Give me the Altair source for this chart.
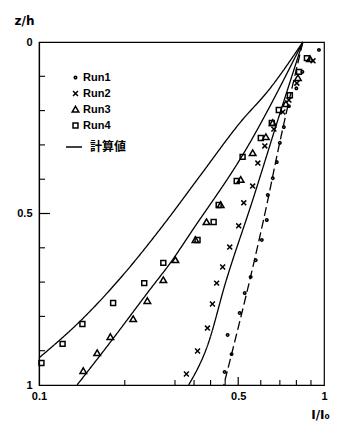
import altair as alt
import pandas as pd

# ---- data ----
runs = ["Run1", "Run2", "Run3", "Run4"]

run1_I = [0.96, 0.84, 0.80, 0.753, 0.723, 0.700, 0.683, 0.661, 0.635, 0.630, 0.605, 0.576, 0.553, 0.527, 0.506, 0.459, 0.474, 0.448]
run1_z = [0.023, 0.087, 0.135, 0.187, 0.248, 0.294, 0.350, 0.397, 0.446, 0.519, 0.577, 0.636, 0.685, 0.732, 0.790, 0.854, 0.910, 0.962]

run2_I = [0.915, 0.803, 0.753, 0.717, 0.667, 0.620, 0.586, 0.562, 0.523, 0.502, 0.467, 0.441, 0.420, 0.406, 0.390, 0.360, 0.329]
run2_z = [0.055, 0.120, 0.169, 0.204, 0.254, 0.303, 0.353, 0.420, 0.469, 0.536, 0.598, 0.656, 0.703, 0.764, 0.834, 0.901, 0.968]

run3_I = [0.893, 0.810, 0.735, 0.661, 0.625, 0.562, 0.510, 0.434, 0.387, 0.354, 0.301, 0.273, 0.240, 0.214, 0.178, 0.160, 0.143]
run3_z = [0.050, 0.105, 0.181, 0.236, 0.277, 0.324, 0.402, 0.475, 0.525, 0.577, 0.636, 0.694, 0.755, 0.808, 0.860, 0.907, 0.959]

run4_I = [0.871, 0.817, 0.759, 0.694, 0.656, 0.600, 0.518, 0.494, 0.427, 0.410, 0.360, 0.273, 0.234, 0.182, 0.142, 0.121, 0.102]
run4_z = [0.047, 0.087, 0.155, 0.198, 0.236, 0.280, 0.335, 0.405, 0.475, 0.525, 0.577, 0.644, 0.703, 0.761, 0.822, 0.880, 0.936]

# computed curves (計算値)
calcA_I = [0.843, 0.640, 0.510, 0.369, 0.278, 0.204, 0.143, 0.100]
calcA_z = [0.0, 0.140, 0.233, 0.388, 0.525, 0.665, 0.805, 0.921]
calcB_I = [0.843, 0.523, 0.346, 0.289, 0.246, 0.178, 0.136]
calcB_z = [0.0, 0.324, 0.548, 0.644, 0.720, 0.875, 1.0]
calcC_I = [0.843, 0.689, 0.562, 0.452, 0.391, 0.335]
calcC_z = [0.0, 0.227, 0.461, 0.700, 0.883, 1.0]
calcD_I = [0.843, 0.694, 0.635, 0.445]
calcD_z = [0.0, 0.306, 0.461, 1.0]

x_labels = [0.1, 0.5, 1]
y_labels = [0, 0.5, 1]
x_minor_ticks = [0.2, 0.3, 0.35, 0.4, 0.45, 0.6, 0.7, 0.8, 0.9]
x_major_ticks = [0.5]
y_minor_ticks = [0.1, 0.2, 0.3, 0.4, 0.6, 0.7, 0.8, 0.9]
y_major_ticks = [0.5]

# ---- tables ----
pts = pd.concat([
    pd.DataFrame({"I": I, "z": z, "run": r})
    for I, z, r in [(run1_I, run1_z, "Run1"), (run2_I, run2_z, "Run2"),
                    (run3_I, run3_z, "Run3"), (run4_I, run4_z, "Run4")]
])
lines = pd.concat([
    pd.DataFrame({"I": I, "z": z, "curve": c, "dash": d, "kind": "計算値"})
    for I, z, c, d in [(calcA_I, calcA_z, "A", "solid"), (calcB_I, calcB_z, "B", "solid"),
                       (calcC_I, calcC_z, "C", "solid"), (calcD_I, calcD_z, "D", "dashed")]
])

W, H = 285, 343
FONT = "Liberation Sans"

xscale = alt.Scale(type="log", domain=[0.1, 1])
yscale = alt.Scale(domain=[0, 1], reverse=True)

x_axis = alt.Axis(values=x_labels, format="~g", ticks=False, grid=False,
                  labelFlush=False, labelPadding=5, labelFontSize=11,
                  labelFontWeight="bold", labelFont=FONT, labelColor="black",
                  domainColor="black", domainWidth=1.2,
                  title="I/I₀", titleFont="DejaVu Sans", titleFontSize=12,
                  titleFontWeight="bold", titleX=281, titleY=29,
                  titleAlign="center", titleBaseline="middle")
y_axis = alt.Axis(values=y_labels, format="~g", ticks=False, grid=False,
                  labelPadding=7, labelFontSize=11, labelFontWeight="bold",
                  labelFont=FONT, labelColor="black",
                  domainColor="black", domainWidth=1.2,
                  title="z/h", titleFont="DejaVu Sans", titleFontSize=12,
                  titleFontWeight="bold", titleAngle=0, titleX=-15, titleY=-22,
                  titleAlign="center", titleBaseline="middle")

def X(field="I"):
    return alt.X(f"{field}:Q", scale=xscale, axis=x_axis)

def Y(field="z"):
    return alt.Y(f"{field}:Q", scale=yscale, axis=y_axis)

dot_shape = "M0,-0.45A0.45,0.45,0,1,1,0,0.45A0.45,0.45,0,1,1,0,-0.45Z"
x_shape = "M-0.9,-0.9L0.9,0.9M-0.9,0.9L0.9,-0.9"
tri_shape = "M0,-1.15L1.2,0.9L-1.2,0.9Z"
sq_shape = "M-0.9,-0.9L0.9,-0.9L0.9,0.9L-0.9,0.9Z"

points = alt.Chart(pts).mark_point(filled=False, color="black", strokeWidth=1.5, opacity=1, size=30).encode(
    x=X(), y=Y(),
    shape=alt.Shape("run:N",
                    scale=alt.Scale(domain=runs, range=[dot_shape, x_shape, tri_shape, sq_shape]),
                    legend=alt.Legend(title=None, orient="none", legendX=31, legendY=30,
                                      symbolSize=30, symbolStrokeWidth=1.5,
                                      symbolStrokeColor="black", symbolFillColor="transparent",
                                      labelFont=FONT, labelFontSize=11, labelFontWeight="bold",
                                      labelColor="black", labelOffset=2, rowPadding=4, padding=0)),
)

curves = alt.Chart(lines).mark_line(strokeWidth=1.3, interpolate="monotone").encode(
    x=X(), y=Y(),
    detail="curve:N",
    order=alt.Order("z:Q"),
    strokeDash=alt.StrokeDash("dash:N",
                              scale=alt.Scale(domain=["solid", "dashed"], range=[[1, 0], [9, 4]]),
                              legend=None),
    color=alt.Color("kind:N", scale=alt.Scale(domain=["計算値"], range=["black"]),
                    legend=alt.Legend(title=None, orient="none", legendX=26, legendY=96,
                                      symbolType="stroke", symbolSize=256, symbolStrokeWidth=1.5,
                                      labelFont="Noto Sans CJK JP", labelFontSize=12,
                                      labelFontWeight="bold", labelColor="black",
                                      labelOffset=7, padding=0)),
)

xt_minor = alt.Chart(pd.DataFrame({"t": x_minor_ticks})).mark_rule(color="black", strokeWidth=1.1).encode(
    x=X("t"), y=alt.value(H), y2=alt.value(H - 5))
xt_major = alt.Chart(pd.DataFrame({"t": x_major_ticks})).mark_rule(color="black", strokeWidth=1.2).encode(
    x=X("t"), y=alt.value(H), y2=alt.value(H - 8))
yt_minor = alt.Chart(pd.DataFrame({"t": y_minor_ticks})).mark_rule(color="black", strokeWidth=1.1).encode(
    y=Y("t"), x=alt.value(0), x2=alt.value(6))
yt_major = alt.Chart(pd.DataFrame({"t": y_major_ticks})).mark_rule(color="black", strokeWidth=1.2).encode(
    y=Y("t"), x=alt.value(0), x2=alt.value(11))

chart = alt.layer(curves, points, xt_minor, xt_major, yt_minor, yt_major).properties(
    width=W, height=H,
    padding={"left": 31, "top": 34, "right": 8, "bottom": 37},
    autosize=alt.AutoSizeParams(type="none"),
    background="white",
).configure_view(stroke="black", strokeWidth=1.2)

chart.save("out.html", embed_options={"renderer": "svg", "actions": False})
